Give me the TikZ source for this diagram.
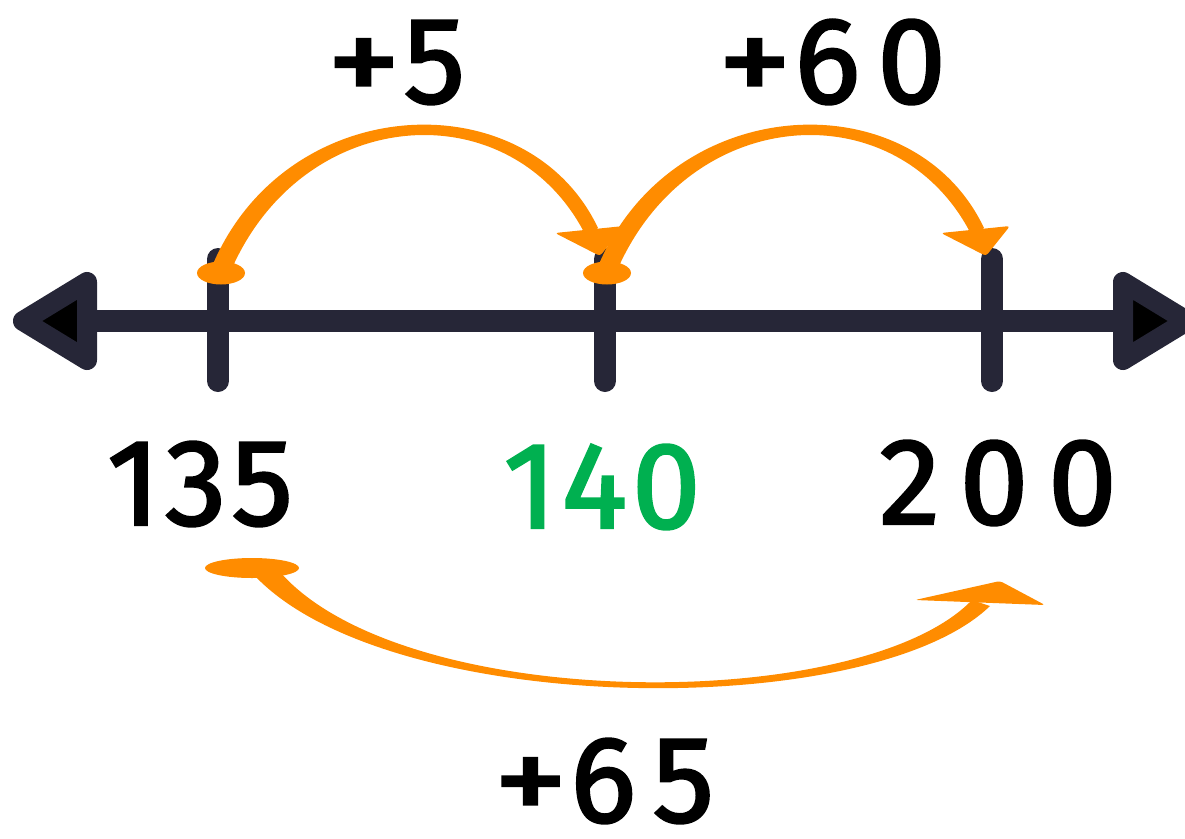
\documentclass[tikz,border=0pt]{standalone}
\usepackage{graphicx}
\usepackage{fontspec}
\setmainfont{Fira Sans}
\newfontfamily\numfam{Fira Sans}[FakeBold=2]
\usetikzlibrary{calc}
\definecolor{linecol}{RGB}{38,38,55}
\definecolor{jumpcol}{RGB}{255,140,0}
\definecolor{greencol}{RGB}{0,176,80}
\newcommand{\numfont}[1]{\numfam\fontsize{123}{123}\selectfont\addfontfeatures{LetterSpace=#1}}
\newcommand{\bigplus}{\scalebox{1.2}[1]{+}\hspace{3pt}}
\begin{document}
\begin{tikzpicture}[x=1pt,y=-1pt,
  axis/.style={draw=linecol,line width=22pt,line cap=round},
  tickmark/.style={draw=linecol,line width=22pt,line cap=round},
  axishead/.style={draw=linecol,fill=black,line width=20pt,line join=round},
  jump/.style={fill=jumpcol},
  numlabel/.style={inner sep=0pt,anchor=base,font=\numfont{4}},
  hop/.pic={
    \fill[jumpcol] (-8,-9) .. controls (67,-183) and (307,-193) .. (377,-45)
      -- (365,-37) .. controls (293,-181) and (87,-171) .. (12,-7) -- cycle;
    \fill[jumpcol,rounded corners=3pt] (334,-40) -- (403,-47) -- (379,-17) -- cycle;
    \fill[jumpcol] (0,0) ellipse [x radius=24, y radius=11.5];
  }
]
\useasboundingbox (0,0) rectangle (1185,838);
\clip (0,0) rectangle (1185,838);

% number line
\coordinate (la) at (87,321);
\coordinate (ra) at (1123,321);
\draw[axis] (la) -- (ra);
\draw[axishead] (23,321) -- (87,282) -- (87,360) -- cycle;
\draw[axishead] (1187,321) -- (1123,282) -- (1123,360) -- cycle;

% ticks
\coordinate (t1top) at (218,259); \coordinate (t1bot) at (218,381);
\coordinate (t2top) at (605,259); \coordinate (t2bot) at (605,381);
\coordinate (t3top) at (992,259); \coordinate (t3bot) at (992,381);
\draw[tickmark] (t1top) -- (t1bot);
\draw[tickmark] (t2top) -- (t2bot);
\draw[tickmark] (t3top) -- (t3bot);

% numbers
\node[numlabel] (n135) at (200,525) {135};
\node[numlabel,text=greencol] (n140) at (602,528) {140};
\node[numlabel,font=\numfont{16}] (n200) at (998,524) {200};

% hops above
\coordinate (b1) at (221,273);
\coordinate (b2) at (607,273);
\pic at (b1) {hop};
\pic at (b2) {hop};
\node[numlabel,font=\numfont{4}] (p5) at (396,103) {\bigplus5};
\node[numlabel,font=\numfont{14}] (p60) at (832,103) {\bigplus60};

% big hop below
\coordinate (b3) at (252,568);
\fill[jumpcol] (255,576) .. controls (390,718) and (870,722) .. (990,606)
  -- (972,600) .. controls (862,714) and (405,714) .. (280,572) -- cycle;
\fill[jumpcol,rounded corners=3pt] (915,600) -- (1000,581) -- (1045,605) -- cycle;
\fill[jumpcol] (b3) ellipse [x radius=47, y radius=10];
\node[numlabel,font=\numfont{14}] (p65) at (604,822) {\bigplus65};
\end{tikzpicture}
\end{document}
